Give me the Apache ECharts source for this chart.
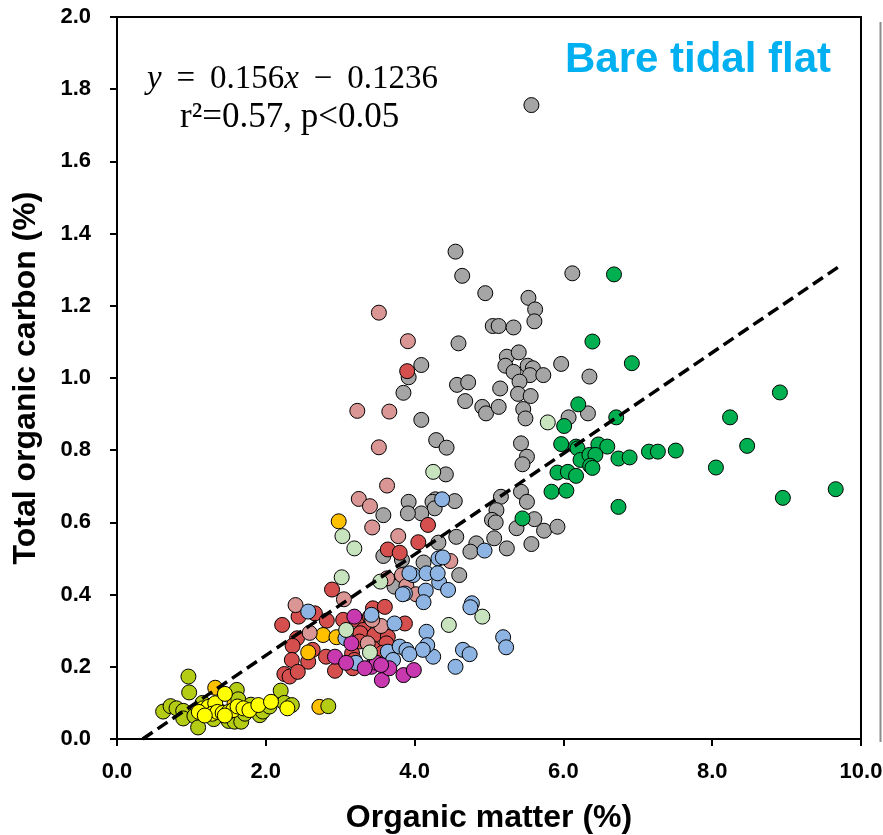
<!DOCTYPE html>
<html>
<head>
<meta charset="utf-8">
<script src="https://cdn.jsdelivr.net/npm/echarts@6/dist/echarts.min.js"></script>
<style>html,body{margin:0;padding:0;background:#fff}#c{width:883px;height:835px}</style>
</head>
<body>
<div id="c"></div>
<script>
const xTicks = [0, 2, 4, 6, 8, 10];
const yTicks = [0, 0.2, 0.4, 0.6, 0.8, 1.0, 1.2, 1.4, 1.6, 1.8, 2.0];
const regressionLine = [[0.345, 0], [9.75, 1.315]];

const grayPts = [
[5.57,1.756],[4.55,1.350],[4.64,1.283],[4.95,1.235],[6.12,1.290],[5.53,1.222],[5.62,1.190],[5.61,1.157],
[5.05,1.144],[5.13,1.144],[5.33,1.140],[4.59,1.096],[5.24,1.059],[5.40,1.071],[5.22,1.034],[5.33,1.017],
[5.52,1.034],[5.59,1.027],[5.55,1.008],[5.73,1.008],[5.97,1.039],[6.35,1.004],[5.41,0.990],[4.57,0.981],
[4.72,0.988],[5.15,0.971],[5.39,0.956],[5.56,0.950],[4.68,0.936],[4.91,0.920],[4.96,0.902],[5.13,0.920],
[5.46,0.914],[5.49,0.888],[6.07,0.891],[6.33,0.902],[4.09,1.036],[4.09,0.884],[4.29,0.828],[4.43,0.807],
[5.43,0.819],[5.51,0.782],[5.45,0.761],[4.42,0.733],[5.43,0.685],[5.51,0.657],[5.16,0.671],[4.28,0.664],
[4.24,0.657],[4.27,0.639],[4.54,0.659],[5.10,0.634],[5.04,0.607],[5.09,0.600],[5.37,0.584],[5.61,0.609],
[5.74,0.577],[5.92,0.588],[4.56,0.560],[5.07,0.556],[4.83,0.542],[4.75,0.519],[5.24,0.528],[5.57,0.540],
[4.09,0.625],[3.92,1.002],[3.85,0.959],[3.92,0.657],[3.91,0.625],[3.58,0.620],[3.58,0.507],[3.83,0.496],
[4.12,0.489],[3.73,0.422],[4.60,0.454],[4.32,0.544]
];
const greenPts = [
[6.68,1.287],[6.39,1.101],[6.92,1.041],[6.20,0.927],[6.01,0.867],[6.71,0.891],[5.97,0.817],[6.17,0.810],
[6.19,0.805],[6.47,0.816],[6.59,0.810],[6.23,0.773],[6.35,0.787],[6.43,0.787],[6.36,0.757],[6.39,0.751],
[5.92,0.738],[6.06,0.740],[6.17,0.729],[5.84,0.685],[6.04,0.688],[5.45,0.611],[6.74,0.777],[6.89,0.780],
[7.15,0.796],[7.27,0.796],[7.51,0.799],[8.05,0.752],[8.24,0.891],[8.47,0.812],[8.91,0.960],[8.95,0.668],
[9.66,0.692],[6.74,0.643]
];
const redPts = [
[4.18,0.593],[4.05,0.545],[3.64,0.525],[3.80,0.516],[2.89,0.414],[2.22,0.316],[2.44,0.339],[2.66,0.348],
[2.82,0.328],[2.42,0.279],[2.36,0.258],[2.63,0.247],[2.35,0.219],[2.57,0.214],[2.25,0.180],[2.32,0.173],
[2.43,0.186],[2.93,0.189],[3.17,0.196],[3.04,0.330],[3.22,0.330],[3.31,0.302],[3.44,0.362],[3.60,0.366],
[3.27,0.293],[3.46,0.288],[3.64,0.283],[3.62,0.265],[2.81,0.228],[3.16,0.237],[3.19,0.219],[3.44,0.251],
[3.57,0.239],[3.87,0.320],[3.90,1.019],[3.26,0.270],[3.40,0.339]
];
const orangePts = [
[1.32,0.142],[1.58,0.100],[2.72,0.089],[2.98,0.603],[2.77,0.288],[2.95,0.282],[2.57,0.240]
];
const pinkPts = [
[3.52,1.181],[3.91,1.102],[3.23,0.909],[3.66,0.907],[3.52,0.808],[3.63,0.702],[3.25,0.665],[3.40,0.645],
[3.43,0.586],[3.78,0.562],[3.83,0.454],[2.40,0.371],[2.59,0.294],[3.55,0.313],[3.37,0.265],[3.05,0.387],
[3.63,0.445],[3.89,0.424],[4.02,0.401],[4.48,0.493],[3.43,0.330]
];
const lightBluePts = [
[2.57,0.353],[3.42,0.344],[3.73,0.320],[4.16,0.297],[3.07,0.279],[3.64,0.242],[3.80,0.256],[3.89,0.247],
[4.25,0.228],[3.21,0.211],[3.71,0.219],[3.87,0.403],[3.98,0.454],[4.32,0.500],[4.38,0.503],[4.16,0.459],
[4.33,0.434],[4.45,0.413],[4.15,0.411],[4.12,0.379],[3.93,0.459],[3.84,0.401],[4.77,0.376],[4.75,0.365],
[4.17,0.260],[4.11,0.247],[4.65,0.247],[4.74,0.235],[4.55,0.200],[5.19,0.282],[5.23,0.254],[3.93,0.235],
[4.37,0.664],[4.94,0.522],[4.31,0.459]
];
const magentaPts = [
[3.19,0.339],[3.15,0.265],[2.93,0.228],[3.08,0.211],[3.42,0.200],[3.49,0.211],[3.56,0.163],[3.66,0.196],
[3.85,0.177],[3.99,0.191],[3.33,0.196],[3.55,0.205]
];
const paleGreenPts = [
[3.02,0.448],[3.19,0.528],[3.03,0.562],[3.08,0.302],[3.40,0.240],[3.54,0.436],[4.25,0.740],[5.79,0.877],
[4.46,0.316],[4.91,0.339]
];
const olivePts = [
[0.62,0.076],[0.72,0.091],[0.80,0.085],[0.89,0.078],[0.89,0.057],[0.96,0.173],[0.97,0.129],[1.04,0.064],
[1.09,0.032],[1.15,0.100],[1.20,0.070],[1.30,0.055],[1.40,0.075],[1.50,0.050],[1.58,0.048],[1.61,0.136],
[1.63,0.110],[1.67,0.048],[1.72,0.070],[1.80,0.095],[1.87,0.080],[1.92,0.066],[1.96,0.076],[2.05,0.090],
[2.20,0.134],[2.25,0.100],[2.35,0.094],[2.84,0.091]
];
const yellowPts = [
[1.16,0.085],[1.23,0.089],[1.32,0.099],[1.45,0.125],[1.28,0.070],[1.35,0.075],[1.42,0.072],[1.50,0.075],
[1.56,0.080],[1.62,0.090],[1.70,0.085],[1.78,0.080],[1.90,0.094],[2.07,0.103],[2.29,0.085],[1.10,0.075],
[1.18,0.065],[1.45,0.065]
];

const groups = [
  {name:'gray', data:grayPts, color:'#A5A5A5'},
  {name:'green', data:greenPts, color:'#00B050'},
  {name:'red', data:redPts, color:'#D64F4F'},
  {name:'orange', data:orangePts, color:'#FFC000'},
  {name:'pink', data:pinkPts, color:'#DA9694'},
  {name:'lightblue', data:lightBluePts, color:'#8DB4E2'},
  {name:'magenta', data:magentaPts, color:'#C839B0'},
  {name:'palegreen', data:paleGreenPts, color:'#C8E4BE'},
  {name:'olive', data:olivePts, color:'#B4CC14'},
  {name:'yellow', data:yellowPts, color:'#FFFF00'}
];

const chart = echarts.init(document.getElementById('c'), null, {renderer:'canvas'});
const tickFont = {fontFamily:'Liberation Sans, Arial, sans-serif', fontWeight:'bold', fontSize:22, color:'#000'};
const series = groups.map(g => ({
  type:'scatter', name:g.name, data:g.data, symbol:'circle', symbolSize:15,
  itemStyle:{color:g.color, borderColor:'#000', borderWidth:1, opacity:1},
  emphasis:{disabled:true}, silent:true
}));
series.push({
  type:'line', data:regressionLine, showSymbol:false, symbol:'none', silent:true,
  lineStyle:{color:'#000', width:3.5, type:[12,6]}, z:5
});

chart.setOption({
  animation:false,
  backgroundColor:'#fff',
  grid:{left:117, right:22, top:17, bottom:96, containLabel:false, outerBoundsMode:'none',
        show:true, borderColor:'#000', borderWidth:2, backgroundColor:'transparent'},
  xAxis:{
    type:'value', min:0, max:10, interval:2,
    name:'Organic matter (%)', nameLocation:'middle', nameGap:63,
    nameTextStyle:{fontFamily:'Liberation Sans, Arial, sans-serif', fontWeight:'bold', fontSize:32, color:'#000'},
    axisLine:{show:true, onZero:false, lineStyle:{color:'#000', width:2}},
    axisTick:{show:true, inside:false, length:7, lineStyle:{color:'#000', width:2}},
    splitLine:{show:false},
    axisLabel:Object.assign({margin:22, formatter:v => v.toFixed(1), showMaxLabel:true, showMinLabel:true}, tickFont)
  },
  yAxis:{
    type:'value', min:0, max:2, interval:0.2,
    name:'Total organic carbon (%)', nameLocation:'middle', nameGap:75, nameRotate:90,
    nameTextStyle:{fontFamily:'Liberation Sans, Arial, sans-serif', fontWeight:'bold', fontSize:32, color:'#000'},
    axisLine:{show:true, onZero:false, lineStyle:{color:'#000', width:2}},
    axisTick:{show:true, inside:false, length:7, lineStyle:{color:'#000', width:2}},
    splitLine:{show:false},
    axisLabel:Object.assign({margin:26, formatter:v => v.toFixed(1), showMaxLabel:true, showMinLabel:true}, tickFont)
  },
  graphic:[
    {type:'text', left:565, top:39, silent:true,
     style:{text:'Bare tidal flat', fill:'#00B0F0', font:'bold 42px "Liberation Sans", Arial, sans-serif'}},
    {type:'text', left:147, top:63, silent:true,
     style:{text:'{i|y}\u2009 = \u20090.156{i|x}\u2009 − \u20090.1236', fill:'#000', font:'33px "Liberation Serif", serif',
       rich:{i:{fontStyle:'italic', fontFamily:'Liberation Serif', fontSize:33, fill:'#000'}}}},
    {type:'text', left:180, top:100, silent:true,
     style:{text:'r²=0.57, p<0.05', fill:'#000', font:'35px "Liberation Serif", serif'}},
    {type:'line', silent:true, shape:{x1:880.5, y1:22, x2:880.5, y2:742},
     style:{stroke:'#8C8C8C', lineWidth:2}}
  ],
  series:series
});
</script>
</body>
</html>
